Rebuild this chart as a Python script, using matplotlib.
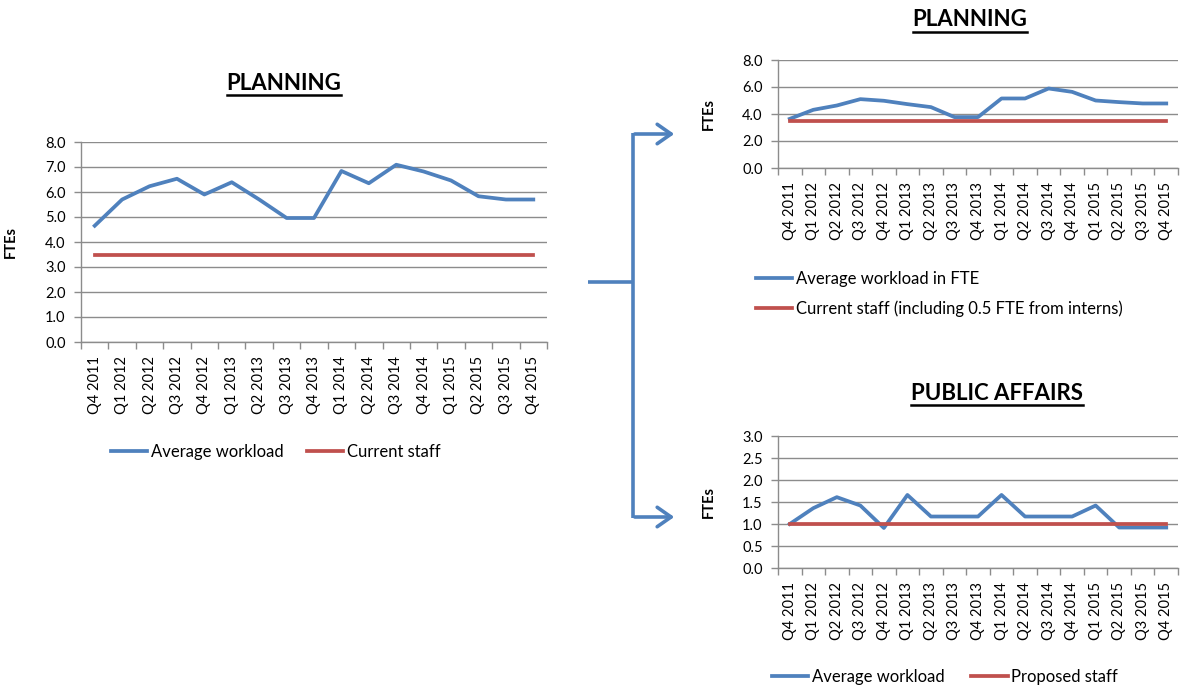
import matplotlib
matplotlib.use("Agg")
import matplotlib.pyplot as plt
from matplotlib.lines import Line2D
from matplotlib.patches import FancyArrowPatch

plt.rcParams['font.family'] = ['Lato', 'DejaVu Sans']

quarters = ["Q4 2011", "Q1 2012", "Q2 2012", "Q3 2012", "Q4 2012", "Q1 2013",
            "Q2 2013", "Q3 2013", "Q4 2013", "Q1 2014", "Q2 2014", "Q3 2014",
            "Q4 2014", "Q1 2015", "Q2 2015", "Q3 2015", "Q4 2015"]

planning_workload = [4.65, 5.70, 6.23, 6.53, 5.90, 6.39, 5.70, 4.96, 4.96,
                     6.84, 6.35, 7.09, 6.82, 6.46, 5.83, 5.70, 5.70]
planning_staff = [3.5] * 17

planning_fte_workload = [3.64, 4.31, 4.63, 5.10, 4.98, 4.73, 4.51, 3.77, 3.77,
                         5.15, 5.15, 5.89, 5.64, 5.00, 4.88, 4.78, 4.78]
planning_fte_staff = [3.5] * 17

pa_workload = [1.00, 1.36, 1.61, 1.42, 0.91, 1.66, 1.17, 1.17, 1.17,
               1.66, 1.17, 1.17, 1.17, 1.42, 0.92, 0.92, 0.92]
pa_staff = [1.0] * 17

BLUE = "#4F81BD"
RED = "#C0504D"
GRID = "#8C8C8C"
W, H = 1186, 688
LW = 2.7

fig = plt.figure(figsize=(W / 100, H / 100), dpi=100)
fig.patch.set_facecolor("white")


def rect(x0, y0, x1, y1):
    return [x0 / W, 1 - y1 / H, (x1 - x0) / W, (y1 - y0) / H]


def fpt(x, y):
    return (x / W, 1 - y / H)


def style_axes(ax, ymax, ystep, fmt="{:.1f}"):
    n = len(quarters)
    ax.set_xlim(-0.5, n - 0.5)
    ax.set_ylim(0, ymax)
    yt = [i * ystep for i in range(int(round(ymax / ystep)) + 1)]
    ax.set_yticks(yt)
    ax.set_yticklabels([fmt.format(v) for v in yt], fontsize=10.5)
    ax.set_xticks(range(n))
    ax.set_xticklabels(quarters, rotation=90, fontsize=10.5)
    ax.set_xticks([i - 0.5 for i in range(n + 1)], minor=True)
    ax.tick_params(axis="x", which="major", length=0, pad=10)
    ax.tick_params(axis="x", which="minor", length=5, color=GRID, width=1)
    ax.tick_params(axis="y", length=5, color=GRID, width=1, pad=6)
    ax.grid(axis="y", color=GRID, linewidth=1)
    ax.set_axisbelow(True)
    for s in ("top", "right"):
        ax.spines[s].set_visible(False)
    for s in ("left", "bottom"):
        ax.spines[s].set_color(GRID)
        ax.spines[s].set_linewidth(1)
    ax.set_ylabel("FTEs", fontsize=10.5, fontweight="bold")


leg_kw = dict(frameon=False, loc="center left", bbox_transform=fig.transFigure,
              fontsize=12, handlelength=2.2, handletextpad=0.2, borderaxespad=0)

# Left: planning
ax1 = fig.add_axes(rect(81, 142, 547, 342))
l1, = ax1.plot(range(17), planning_workload, color=BLUE, lw=LW)
l2, = ax1.plot(range(17), planning_staff, color=RED, lw=LW)
style_axes(ax1, 8, 1)
ax1.yaxis.set_label_coords(-0.135, 0.5)
ax1.legend([l1, l2], ["Average workload", "Current staff"], ncol=2,
           bbox_to_anchor=fpt(104, 452), columnspacing=1.4, **leg_kw)

# Top right: planning (FTE)
ax2 = fig.add_axes(rect(778, 60, 1178, 168))
m1, = ax2.plot(range(17), planning_fte_workload, color=BLUE, lw=LW)
m2, = ax2.plot(range(17), planning_fte_staff, color=RED, lw=LW)
style_axes(ax2, 8, 2)
ax2.yaxis.set_label_coords(-0.155, 0.5)
ax2.legend([m1, m2], ["Average workload in FTE", "Current staff (including 0.5 FTE from interns)"],
           ncol=1, bbox_to_anchor=fpt(749, 294), labelspacing=0.8, **leg_kw)

# Bottom right: public affairs
ax3 = fig.add_axes(rect(778, 436, 1178, 568))
n1, = ax3.plot(range(17), pa_workload, color=BLUE, lw=LW)
n2, = ax3.plot(range(17), pa_staff, color=RED, lw=LW)
style_axes(ax3, 3, 0.5)
ax3.yaxis.set_label_coords(-0.155, 0.5)
ax3.legend([n1, n2], ["Average workload", "Proposed staff"], ncol=2,
           bbox_to_anchor=fpt(765, 677), columnspacing=1.6, **leg_kw)

# Underlined titles
titles = [("PLANNING", 284, 83), ("PLANNING", 970, 20), ("PUBLIC AFFAIRS", 997, 393)]
text_objs = []
for label, x, y in titles:
    t = fig.text(x / W, 1 - y / H, label, ha="center", va="center",
                 fontsize=16, fontweight="bold")
    text_objs.append(t)
fig.canvas.draw()
renderer = fig.canvas.get_renderer()
for t in text_objs:
    bb = t.get_window_extent(renderer)
    yline = bb.y0 - 1
    fig.add_artist(Line2D([bb.x0 / W, bb.x1 / W], [yline / H, yline / H],
                          transform=fig.transFigure, color="black", lw=1.8))

# Connector arrows
conn_kw = dict(transform=fig.transFigure, color=BLUE, lw=2.6, solid_capstyle="butt")
fig.add_artist(Line2D([588 / W, 633 / W], [1 - 282 / H, 1 - 282 / H], **conn_kw))
fig.add_artist(Line2D([633 / W, 633 / W], [1 - 133 / H, 1 - 518 / H], **conn_kw))
for yy in (134, 517):
    fig.add_artist(FancyArrowPatch(fpt(632, yy), fpt(677, yy), transform=fig.transFigure,
                                   arrowstyle="->,head_length=5,head_width=3.5",
                                   color=BLUE, lw=2.6, mutation_scale=2))

fig.savefig("out.png", dpi=100, facecolor="white")
